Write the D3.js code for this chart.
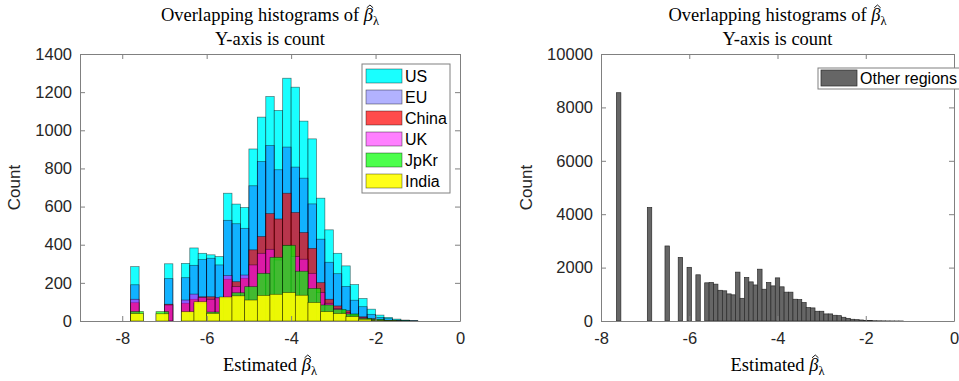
<!DOCTYPE html>
<html>
<head>
<meta charset="utf-8">
<script src="https://cdn.jsdelivr.net/npm/d3@7"></script>
<style>
  body { margin: 0; background: #fff; }
  svg { display: block; }
  .tick text { font-family: "Liberation Sans", Arial, sans-serif; font-size: 16.5px; fill: #262626; }
  .ttl { font-family: "Liberation Serif", "DejaVu Serif", serif; font-size: 18.5px; fill: #000; }
  .lab { font-family: "Liberation Sans", Arial, sans-serif; font-size: 17px; fill: #262626; }
  .leg { font-family: "Liberation Sans", Arial, sans-serif; font-size: 16px; fill: #000; }
</style>
</head>
<body>
<svg id="fig" width="959" height="381"></svg>
<script>
// Left panel: one histogram per region (US, EU, China, UK use 0.2 bins, JpKr / India 0.3 bins)
const wideBinStart = -7.8, wideBinStep = 0.2;
const usCounts    = [285, 0, 0, 0, 300, 0, 302, 383, 355, 347, 338, 670, 613, 595, 902, 1069, 1177, 1104, 1273, 1226, 1048, 955, 644, 478, 355, 289, 191, 118, 62, 31, 19, 10, 5, 2];
const euCounts    = [190, 0, 0, 0, 222, 0, 227, 292, 322, 329, 294, 528, 510, 486, 709, 836, 920, 793, 912, 807, 749, 614, 429, 308, 248, 181, 109, 75, 35, 19, 12, 5, 3, 1];
const chinaCounts = [96, 0, 0, 0, 88, 0, 93, 114, 127, 127, 120, 219, 206, 224, 373, 443, 563, 535, 670, 569, 464, 381, 201, 114, 79, 54, 35, 22, 12, 6, 3, 1, 0, 0];
const ukCounts    = [114, 0, 0, 0, 84, 0, 110, 141, 124, 114, 124, 238, 180, 241, 294, 355, 376, 320, 395, 338, 324, 250, 150, 93, 66, 44, 28, 18, 9, 4, 2, 1, 0, 0];
const coarseBinStart = -7.8, coarseBinStep = 0.3;
const jpkrCounts  = [50, 0, 49, 0, 45, 92, 47, 118, 148, 180, 250, 334, 397, 261, 171, 84, 61, 37, 14, 9, 3, 1];
const indiaCounts = [39, 0, 38, 0, 49, 101, 40, 126, 132, 110, 134, 140, 149, 135, 97, 49, 39, 23, 9, 3, 1, 0];

const regionNames  = ['US', 'EU', 'China', 'UK', 'JpKr', 'India'];
const regionColors = ['#00ffff', '#0000ff', '#ff0000', '#ff00ff', '#00ff00', '#ffff00'];
const regionAlpha  = [0.9, 0.3, 0.7, 0.5, 0.7, 0.9];

// Right panel: all other regions, 0.1 bins
const otherBinStart = -7.65, otherBinStep = 0.1;
const otherCounts = [8550, 0, 0, 0, 0, 0, 0, 4250, 0, 0, 0, 2810, 0, 0, 2380, 0, 2010, 0, 1730, 0,
  1430, 1440, 1380, 1150, 1130, 1015, 980, 1830, 850, 1630, 1465, 1350, 1940, 1190, 1440, 1315, 1615, 1280,
  1080, 1080, 815, 800, 690, 500, 490, 365, 365, 265, 265, 215, 200, 140, 100, 65, 50, 38, 25,
  15, 10, 7, 5, 3, 2, 1, 1, 0, 0, 0, 0, 0, 0, 0];

const leftTicksX = [-8, -6, -4, -2, 0];
const leftTicksY = [0, 200, 400, 600, 800, 1000, 1200, 1400];
const rightTicksX = [-8, -6, -4, -2, 0];
const rightTicksY = [0, 2000, 4000, 6000, 8000, 10000];

const svg = d3.select('#fig');

function toBins(start, step, counts) {
  return counts.map((c, i) => ({ x0: start + i * step, x1: start + (i + 1) * step, c }));
}

function drawAxes(g, x, y, xt, yt, w, h) {
  const fmt = (d) => String(d);
  const tl = 5;
  g.append('g').attr('transform', `translate(0,${h})`)
    .call(d3.axisBottom(x).tickValues(xt).tickFormat(fmt).tickSizeInner(-tl).tickSizeOuter(0).tickPadding(11));
  g.append('g')
    .call(d3.axisTop(x).tickValues(xt).tickFormat('').tickSizeInner(-tl).tickSizeOuter(0));
  g.append('g')
    .call(d3.axisLeft(y).tickValues(yt).tickFormat(fmt).tickSizeInner(-tl).tickSizeOuter(0).tickPadding(8));
  g.append('g').attr('transform', `translate(${w},0)`)
    .call(d3.axisRight(y).tickValues(yt).tickFormat('').tickSizeInner(-tl).tickSizeOuter(0));
  g.selectAll('.domain').attr('stroke', '#808080');
  g.selectAll('.tick line').attr('stroke', '#808080');
}

// text with a trailing hat-beta and subscript lambda
function betaLabel(cx, y, prefix) {
  const t = svg.append('text').attr('class', 'ttl').attr('x', cx).attr('y', y).attr('text-anchor', 'middle');
  t.append('tspan').text(prefix);
  t.append('tspan').attr('font-style', 'italic').text('\u03B2');
  t.append('tspan').attr('font-size', '12.5px').attr('dy', 4).text('\u03BB');
  // hat over beta, drawn as a small chevron above the glyph
  const box = t.node().getExtentOfChar(prefix.length);
  const hx = box.x + box.width / 2 + 1.5;
  svg.append('path')
    .attr('d', d3.line()([[hx - 3.2, y - 13.2], [hx, y - 16], [hx + 3.2, y - 13.2]]))
    .attr('fill', 'none')
    .attr('stroke', '#000')
    .attr('stroke-width', 0.9);
}

function drawTitles(cx, top, axisBottom, leftLabelX) {
  betaLabel(cx, top, 'Overlapping histograms of ');
  svg.append('text').attr('class', 'ttl').attr('x', cx).attr('y', top + 24)
    .attr('text-anchor', 'middle').text('Y-axis is count');
  betaLabel(cx, axisBottom + 50, 'Estimated ');

  svg.append('text').attr('class', 'lab')
    .attr('transform', `translate(${leftLabelX},${(54 + axisBottom) / 2}) rotate(-90)`)
    .attr('text-anchor', 'middle').text('Count');
}

// ---- Left panel
{
  const m = { left: 80, top: 54, w: 380, h: 267 };
  const g = svg.append('g').attr('transform', `translate(${m.left},${m.top})`);
  const x = d3.scaleLinear().domain([-9, 0]).range([0, m.w]);
  const y = d3.scaleLinear().domain([0, 1400]).range([m.h, 0]);

  const series = [
    toBins(wideBinStart, wideBinStep, usCounts),
    toBins(wideBinStart, wideBinStep, euCounts),
    toBins(wideBinStart, wideBinStep, chinaCounts),
    toBins(wideBinStart, wideBinStep, ukCounts),
    toBins(coarseBinStart, coarseBinStep, jpkrCounts),
    toBins(coarseBinStart, coarseBinStep, indiaCounts)
  ];
  series.forEach((bins, k) => {
    g.append('g').selectAll('rect').data(bins).join('rect')
      .attr('x', (d) => x(d.x0))
      .attr('width', (d) => x(d.x1) - x(d.x0))
      .attr('y', (d) => y(d.c))
      .attr('height', (d) => y(0) - y(d.c))
      .attr('fill', regionColors[k])
      .attr('fill-opacity', regionAlpha[k])
      .attr('stroke', '#000')
      .attr('stroke-opacity', 0.55)
      .attr('stroke-width', 0.7);
  });
  drawAxes(g, x, y, leftTicksX, leftTicksY, m.w, m.h);

  // legend
  const lg = svg.append('g').attr('transform', 'translate(362,64)');
  lg.append('rect').attr('width', 88).attr('height', 129).attr('fill', '#fff').attr('stroke', '#808080');
  regionNames.forEach((name, k) => {
    const row = lg.append('g').attr('transform', `translate(4,${5 + k * 21})`);
    row.append('rect').attr('width', 36).attr('height', 14)
      .attr('fill', regionColors[k]).attr('fill-opacity', regionAlpha[k])
      .attr('stroke', '#000').attr('stroke-opacity', 0.55).attr('stroke-width', 0.7);
    row.append('text').attr('class', 'leg').attr('x', 39).attr('y', 13).text(name);
  });

  drawTitles(m.left + m.w / 2, 21, m.top + m.h, 20);
}

// ---- Right panel
{
  const m = { left: 601, top: 54, w: 353, h: 267 };
  const g = svg.append('g').attr('transform', `translate(${m.left},${m.top})`);
  const x = d3.scaleLinear().domain([-8, 0]).range([0, m.w]);
  const y = d3.scaleLinear().domain([0, 10000]).range([m.h, 0]);

  g.append('g').selectAll('rect').data(toBins(otherBinStart, otherBinStep, otherCounts)).join('rect')
    .attr('x', (d) => x(d.x0))
    .attr('width', (d) => x(d.x1) - x(d.x0))
    .attr('y', (d) => y(d.c))
    .attr('height', (d) => y(0) - y(d.c))
    .attr('fill', '#666666')
    .attr('stroke', '#2a2a2a')
    .attr('stroke-width', 0.7);
  drawAxes(g, x, y, rightTicksX, rightTicksY, m.w, m.h);

  const lg = svg.append('g').attr('transform', 'translate(818,68)');
  lg.append('rect').attr('width', 150).attr('height', 21).attr('fill', '#fff').attr('stroke', '#808080');
  lg.append('rect').attr('x', 3).attr('y', 2).attr('width', 36).attr('height', 16)
    .attr('fill', '#666666').attr('stroke', '#2a2a2a').attr('stroke-width', 0.7);
  lg.append('text').attr('class', 'leg').attr('x', 42).attr('y', 16).text('Other regions');

  drawTitles(m.left + m.w / 2, 21, m.top + m.h, 532);
}
</script>
</body>
</html>
